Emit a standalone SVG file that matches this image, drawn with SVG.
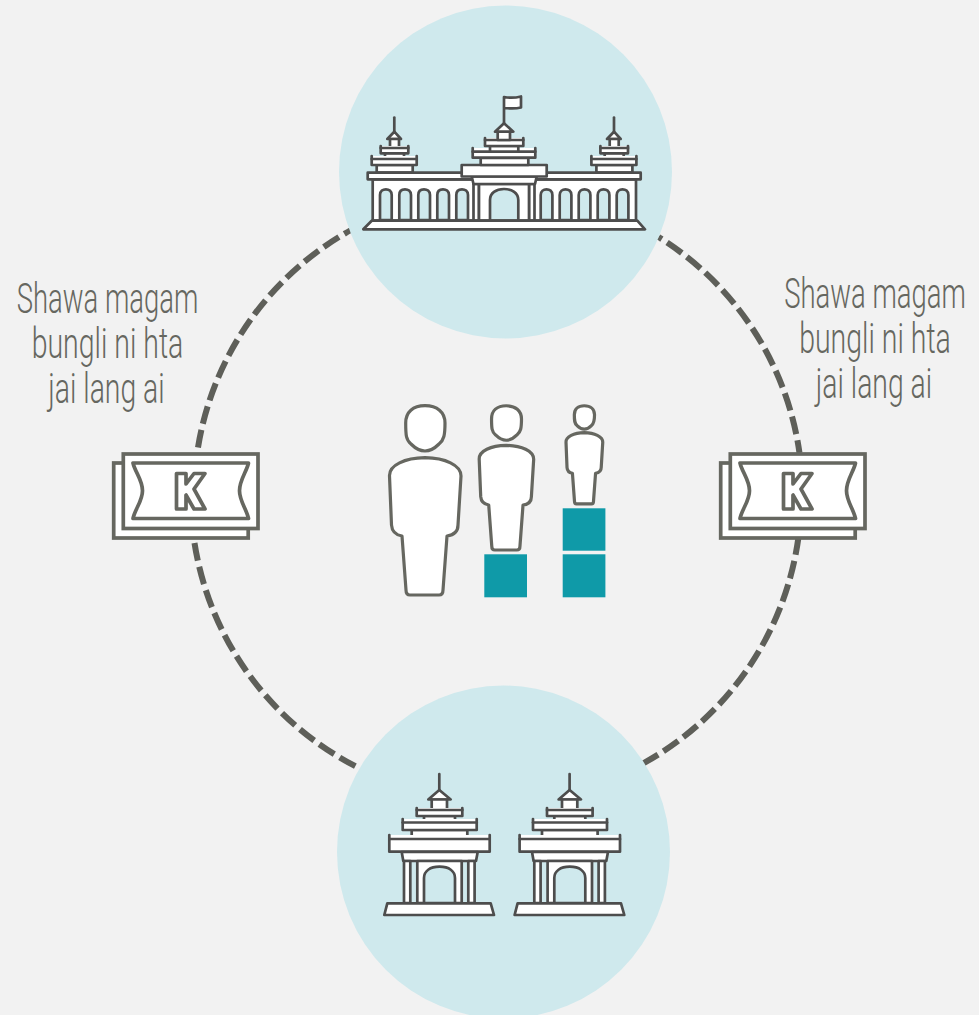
<svg xmlns="http://www.w3.org/2000/svg" width="979" height="1015" viewBox="0 0 979 1015">
<style>
.b{fill:#fff;stroke:#4d4d4d;stroke-width:2.7;stroke-linejoin:round;stroke-linecap:round}
.a{fill:#cfe9ed;stroke:#4d4d4d;stroke-width:2.7;stroke-linejoin:round}
.m{fill:#fff;stroke:#666760;stroke-width:3.7}
.p{fill:#fff;stroke:#666760;stroke-width:3.2;stroke-linejoin:round;vector-effect:non-scaling-stroke}
.c{fill:#cfe9ed}
.t{fill:#0f9aa8}
.d{fill:none;stroke:#5e5f59;stroke-width:6;stroke-dasharray:18 6.3}
.l{font-family:"Roboto","Liberation Sans",sans-serif;font-weight:300;font-size:42px;fill:#666760;text-anchor:middle}
</style>
<defs>
<g id="tower">
<path class="b" d="M394.3 117.5V132"/>
<path class="b" d="M387.3 139L394.3 131.7L401 139Z"/>
<rect class="b" x="390" y="139" width="9" height="8.5"/>
<rect class="b" x="385" y="153" width="19" height="6"/>
<path class="b" d="M380.7 146V153.3H408.3V146"/>
<path class="b" d="M380.7 148H408.3"/>
<rect class="b" x="376.7" y="165" width="36" height="7.7"/>
<path class="b" d="M371.7 156V165H416.7V156"/>
<path class="b" d="M371.7 159H416.7"/>
</g>
<g id="temple">
<path class="b" d="M439.3 774V790"/>
<path class="b" d="M428.3 799.5L439.3 790L450.7 799.5Z"/>
<rect class="b" x="431.7" y="799.5" width="15.3" height="10.5"/>
<rect class="b" x="424" y="816" width="31" height="6.3"/>
<path class="b" d="M416.7 808V816H462.3V808"/>
<path class="b" d="M416.7 810H462.3"/>
<rect class="b" x="411.7" y="830" width="55.6" height="9"/>
<path class="b" d="M402.7 819V830H476.7V819"/>
<path class="b" d="M402.7 822.5H476.7"/>
<path class="b" d="M389.3 835V851.7H489.7V835"/>
<path class="b" d="M389.3 839H489.7"/>
<path class="b" d="M401.7 852L403.3 861H476L477.7 852Z"/>
<rect class="b" x="404" y="861" width="6.3" height="42"/>
<rect class="b" x="468.3" y="861" width="6.3" height="42"/>
<rect class="b" x="417.3" y="861" width="44.4" height="42"/>
<path class="a" d="M424 903V878C424 871 430 866.7 439.5 866.7C449 866.7 455 871 455 878V903Z"/>
<path class="b" d="M387.3 903.3H490.7L494 915H384.3Z"/>
</g>
<g id="money">
<rect class="m" x="113.7" y="463" width="134.5" height="75"/>
<rect class="m" x="123.3" y="454" width="134.7" height="74.5"/>
<path class="m" stroke-linejoin="round" d="M133 463H248.5C246.5 472 239.5 480 239.5 490.7C239.5 501 246.5 509 248.5 518.5H133C135 509 142.5 501 142.5 490.7C142.5 480 135 472 133 463Z"/>
<path class="m" stroke-linejoin="round" d="M176.5 473.5H186V484L194 473.5H205L194 489L205 509H194L186 495V509H176.5Z"/>
</g>
<g id="person">
<path class="p" d="M425 405.7C437 405.7 445 412 445 423C445 435 444 440 439 444C434 449 430 451 425 451C420 451 416 449 411 444C406 440 405.7 435 405.7 423C405.7 412 413 405.7 425 405.7Z"/>
<path class="p" d="M389.5 476C389 465 405 458 425 457.7C445 458 461 465 461 476L458 525C458 532 454 535 447 536L443 590C443 594 441 595 439 595H410C408 595 406 594 406 590L402 536C396 535 392 532 391.5 525Z"/>
</g>
</defs>
<rect width="979" height="1015" fill="#f2f2f2"/>
<g id="connectors">
<path class="d" d="M198 447.5A304.5 304.5 0 0 1 351 230"/>
<path class="d" stroke-dashoffset="14" d="M658.5 237A304.5 304.5 0 0 1 799.5 453"/>
<path class="d" d="M798.5 537A304.5 304.5 0 0 1 643.3 763.3"/>
<path class="d" d="M194.5 543A304.5 304.5 0 0 0 357 767"/>
</g>
<g id="top-node">
<circle class="c" cx="505.5" cy="172" r="166.5"/>
<use href="#tower"/>
<use href="#tower" x="219.7"/>
<path class="b" d="M372.7 179.3H636V220.7H372.7Z"/>
<rect class="b" x="367.7" y="172.7" width="273" height="6.6"/>
<path class="a" d="M380 220V195C380 191 383 189.3 385.9 189.3C388.8 189.3 391.7 191 391.7 195V220Z"/>
<path class="a" d="M399.3 220V195C399.3 191 402 189.3 405 189.3C408 189.3 411 191 411 195V220Z"/>
<path class="a" d="M418.3 220V195C418.3 191 421 189.3 424 189.3C427 189.3 430 191 430 195V220Z"/>
<path class="a" d="M437.3 220V195C437.3 191 440 189.3 443 189.3C446 189.3 449 191 449 195V220Z"/>
<path class="a" d="M456.3 220V195C456.3 191 459 189.3 462 189.3C465 189.3 468 191 468 195V220Z"/>
<path class="a" d="M540.7 220V195C540.7 191 543.5 189.3 546.5 189.3C549.5 189.3 552.4 191 552.4 195V220Z"/>
<path class="a" d="M559.7 220V195C559.7 191 562.5 189.3 565.5 189.3C568.5 189.3 571.4 191 571.4 195V220Z"/>
<path class="a" d="M578.7 220V195C578.7 191 581.5 189.3 584.5 189.3C587.5 189.3 590.4 191 590.4 195V220Z"/>
<path class="a" d="M597.7 220V195C597.7 191 600.5 189.3 603.5 189.3C606.5 189.3 609.4 191 609.4 195V220Z"/>
<path class="a" d="M616.7 220V195C616.7 191 619.5 189.3 622.5 189.3C625.5 189.3 628.4 191 628.4 195V220Z"/>
<rect class="b" x="473.5" y="184" width="5.5" height="36.7"/>
<rect class="b" x="529" y="184" width="5.5" height="36.7"/>
<rect class="b" x="479" y="184" width="50" height="36.7"/>
<path class="a" d="M490 220.7V200C490 193 496 189 504 189C512 189 518.3 193 518.3 200V220.7Z"/>
<path class="b" d="M471.7 176.5H536.7L535 184H473.5Z"/>
<rect class="b" x="461.7" y="165" width="85" height="11.5"/>
<rect class="b" x="480.7" y="158" width="47.6" height="7"/>
<path class="b" d="M472.7 148V157.7H535.3V148"/>
<path class="b" d="M472.7 151.7H535.3"/>
<rect class="b" x="490" y="146" width="28.3" height="5.7"/>
<path class="b" d="M485 138V146H523.3V138"/>
<path class="b" d="M485 140H523.3"/>
<rect class="b" x="497.7" y="131.7" width="12.3" height="8.3"/>
<path class="b" d="M495 131.7L504 123.3L513.3 131.7Z"/>
<path class="b" d="M504 123V97C509 98 515 98 521 96.5V107.5C515 109 509 108.5 504 108"/>
<path class="b" d="M371.7 220.7H637.3L645 229.3H363.3Z"/>
</g>
<g id="bottom-node">
<circle class="c" cx="503.5" cy="852" r="166.5"/>
<use href="#temple"/>
<use href="#temple" x="130.3"/>
</g>
<g id="money-left"><use href="#money"/></g>
<g id="money-right"><use href="#money" x="607"/></g>
<g id="people">
<rect class="t" x="484.3" y="554.3" width="42.7" height="43"/>
<rect class="t" x="562.7" y="508.3" width="42.7" height="42.4"/>
<rect class="t" x="562.7" y="554.3" width="42.7" height="43"/>
<use href="#person"/>
<use href="#person" transform="translate(182.4 96.6) scale(.762)"/>
<use href="#person" transform="translate(365.8 195.6) scale(.514 .518)"/>
</g>
<g id="label-left" class="l">
<text transform="translate(107.5 313) scale(.654 1)">Shawa magam</text>
<text transform="translate(107.5 358) scale(.678 1)">bungli ni hta</text>
<text transform="translate(106.5 403) scale(.675 1)">jai lang ai</text>
</g>
<g id="label-right" class="l">
<text transform="translate(875 308) scale(.654 1)">Shawa magam</text>
<text transform="translate(875 353) scale(.678 1)">bungli ni hta</text>
<text transform="translate(874 398) scale(.675 1)">jai lang ai</text>
</g>
</svg>
